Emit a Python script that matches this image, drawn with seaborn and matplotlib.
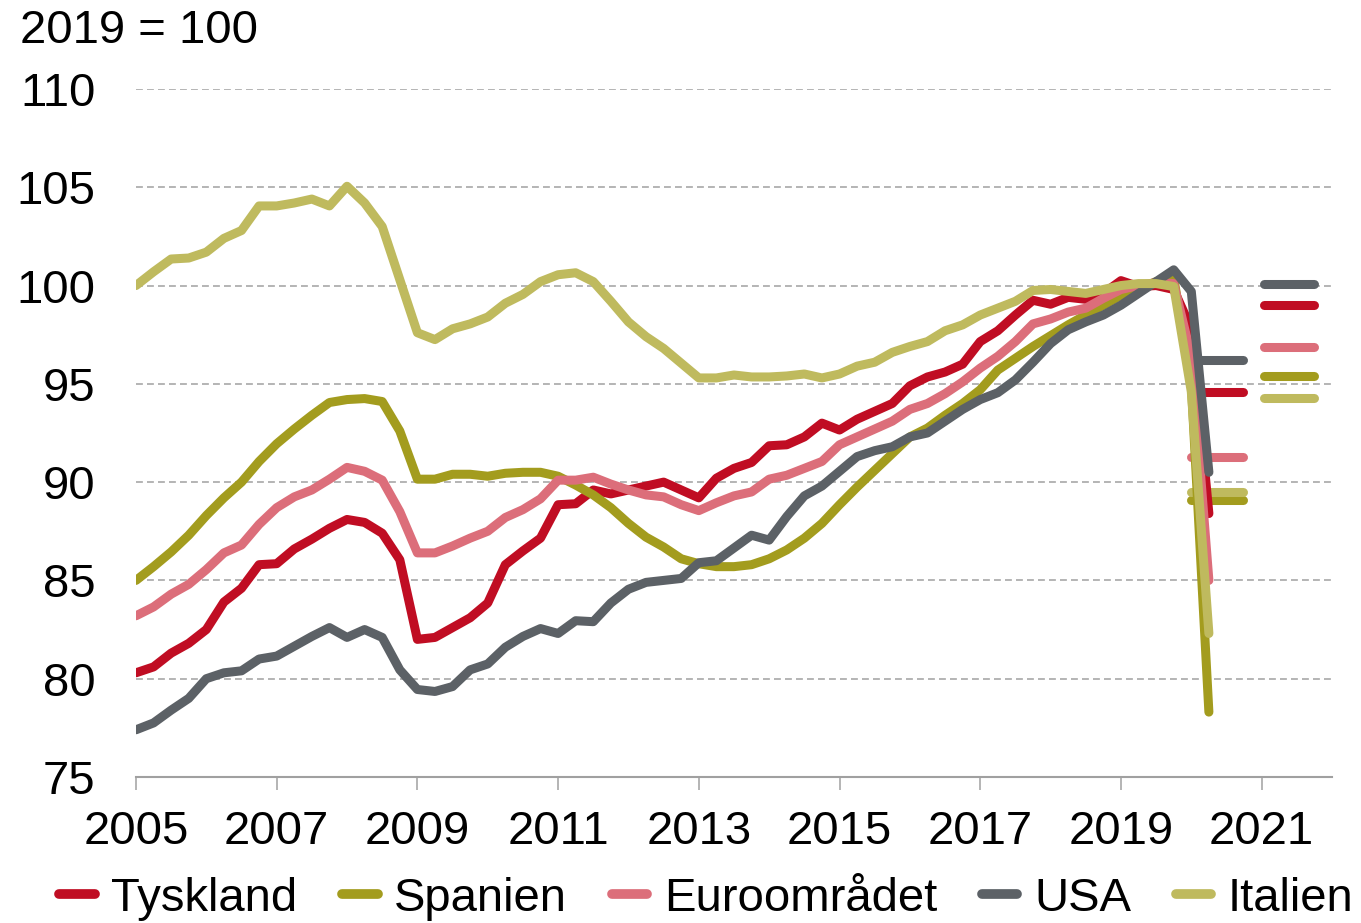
import numpy as np
import pandas as pd
import seaborn as sns
import matplotlib.pyplot as plt
from matplotlib.lines import Line2D

# BNP per kvartal, 2019 = 100 (2005K1 - 2020K2)
serier = ['Tyskland', 'Spanien', 'Euroområdet', 'USA', 'Italien']
farger = ['#C00D23', '#A39C1E', '#DC6E7A', '#5C6166', '#BFBA5E']

tyskland = [80.3, 80.6, 81.3, 81.8, 82.5, 83.9, 84.6, 85.8, 85.85, 86.6, 87.1, 87.65, 88.1, 87.95, 87.4, 86.05,
            82.0, 82.1, 82.6, 83.1, 83.85, 85.8, 86.5, 87.15, 88.85, 88.9, 89.6, 89.4, 89.6, 89.8, 90.0, 89.6,
            89.2, 90.2, 90.7, 91.0, 91.85, 91.9, 92.3, 93.0, 92.65, 93.2, 93.6, 94.0, 94.9, 95.35, 95.6, 96.0,
            97.15, 97.7, 98.5, 99.25, 99.05, 99.4, 99.3, 99.6, 100.25, 99.95, 100.0, 99.8, 97.8, 88.4]
spanien = [85.0, 85.7, 86.45, 87.3, 88.3, 89.2, 90.0, 91.05, 91.95, 92.7, 93.4, 94.05, 94.2, 94.25, 94.1, 92.6,
           90.15, 90.15, 90.4, 90.4, 90.3, 90.45, 90.5, 90.5, 90.3, 89.85, 89.35, 88.7, 87.9, 87.2, 86.7, 86.1,
           85.85, 85.7, 85.7, 85.8, 86.1, 86.55, 87.15, 87.9, 88.85, 89.75, 90.6, 91.45, 92.3, 92.75, 93.4, 94.0,
           94.7, 95.7, 96.3, 96.9, 97.45, 98.0, 98.5, 99.0, 99.5, 99.85, 100.2, 100.4, 95.0, 78.3]
euro = [83.2, 83.65, 84.3, 84.8, 85.55, 86.4, 86.8, 87.85, 88.7, 89.25, 89.6, 90.15, 90.75, 90.55, 90.1, 88.5,
        86.4, 86.4, 86.75, 87.15, 87.5, 88.2, 88.6, 89.15, 90.1, 90.1, 90.25, 89.9, 89.6, 89.35, 89.25, 88.85,
        88.55, 88.95, 89.3, 89.5, 90.15, 90.35, 90.7, 91.05, 91.9, 92.3, 92.7, 93.1, 93.7, 94.0, 94.5, 95.1,
        95.8, 96.4, 97.15, 98.05, 98.3, 98.65, 98.85, 99.35, 99.8, 100.0, 100.15, 100.1, 96.4, 85.0]
usa = [77.4, 77.75, 78.4, 79.0, 80.0, 80.3, 80.4, 81.0, 81.15, 81.65, 82.15, 82.6, 82.1, 82.5, 82.1, 80.45,
       79.45, 79.35, 79.6, 80.45, 80.75, 81.6, 82.15, 82.55, 82.3, 82.95, 82.9, 83.85, 84.55, 84.9, 85.0, 85.1,
       85.9, 86.0, 86.65, 87.3, 87.05, 88.25, 89.3, 89.8, 90.55, 91.3, 91.6, 91.8, 92.3, 92.5, 93.1, 93.7,
       94.2, 94.55, 95.2, 96.1, 97.05, 97.75, 98.15, 98.5, 99.0, 99.6, 100.2, 100.8, 99.7, 90.5]
italien = [100.0, 100.7, 101.35, 101.4, 101.7, 102.4, 102.8, 104.05, 104.05, 104.2, 104.4, 104.05, 105.05, 104.2, 103.0, 100.3,
           97.6, 97.25, 97.8, 98.05, 98.4, 99.1, 99.55, 100.2, 100.55, 100.65, 100.2, 99.2, 98.15, 97.4, 96.8, 96.05,
           95.3, 95.3, 95.45, 95.35, 95.35, 95.4, 95.5, 95.3, 95.5, 95.9, 96.1, 96.6, 96.9, 97.15, 97.7, 98.0,
           98.5, 98.85, 99.2, 99.75, 99.8, 99.7, 99.6, 99.8, 100.0, 100.1, 100.1, 99.95, 94.6, 82.3]

# prognoser (årsnivå) for 2020 og 2021, samme rekkefølge som serier
prognose_2020 = [94.6, 89.1, 91.3, 96.2, 89.5]
prognose_2021 = [99.0, 95.4, 96.85, 100.1, 94.3]

aar = 2005 + np.arange(len(tyskland)) / 4

df = pd.DataFrame({
    'aar': np.tile(aar, len(serier)),
    'verdi': np.concatenate([tyskland, spanien, euro, usa, italien]),
    'serie': np.repeat(serier, len(aar)),
})

plt.rcParams['font.family'] = ['Liberation Sans', 'DejaVu Sans']
fs = 34

fig = plt.figure(figsize=(13.61, 9.23), dpi=100)
ax = fig.add_axes([0.0999, 0.1582, 0.8788, 0.7454])

# prognosestreker under linjene
for i, navn in enumerate(serier):
    ax.plot([2020.0, 2020.74], [prognose_2020[i]] * 2, color=farger[i], lw=6.5,
            solid_capstyle='round', zorder=1.5)
    ax.plot([2021.03, 2021.74], [prognose_2021[i]] * 2, color=farger[i], lw=6.5,
            solid_capstyle='round', zorder=1.5)

sns.lineplot(data=df, x='aar', y='verdi', hue='serie', hue_order=serier, palette=farger,
             linewidth=6.5, legend=False, ax=ax, solid_capstyle='round', zorder=2)

ax.set_xlim(2005, 2022)
ax.set_ylim(75, 110)
ax.set_xticks(range(2005, 2022, 2))
ax.set_yticks(range(75, 111, 5))
ax.set_xlabel('')
ax.set_ylabel('')

ax.yaxis.grid(True, color='#A0A0A0', linestyle=(0, (4.5, 2.7)), linewidth=1.1)
ax.set_axisbelow(True)
for s in ['top', 'right', 'left']:
    ax.spines[s].set_visible(False)
ax.spines['bottom'].set_color('#A0A0A0')
ax.spines['bottom'].set_linewidth(1.5)

ax.tick_params(axis='x', length=9.5, width=1.1, color='#A0A0A0', labelsize=fs, pad=14)
ax.tick_params(axis='y', length=0, labelsize=fs, pad=29)

fig.text(0.0147, 0.99, '2019 = 100', fontsize=fs, va='top', ha='left')

handles = [Line2D([0], [0], color=c, lw=7, solid_capstyle='round') for c in farger]
fig.legend(handles, serier, loc='center', bbox_to_anchor=(0.519, 0.026), ncol=5, frameon=False,
           fontsize=fs, handlelength=0.75, handletextpad=0.35, columnspacing=0.95,
           borderpad=0, borderaxespad=0)

fig.savefig('out.png', dpi=100)
plt.close()
